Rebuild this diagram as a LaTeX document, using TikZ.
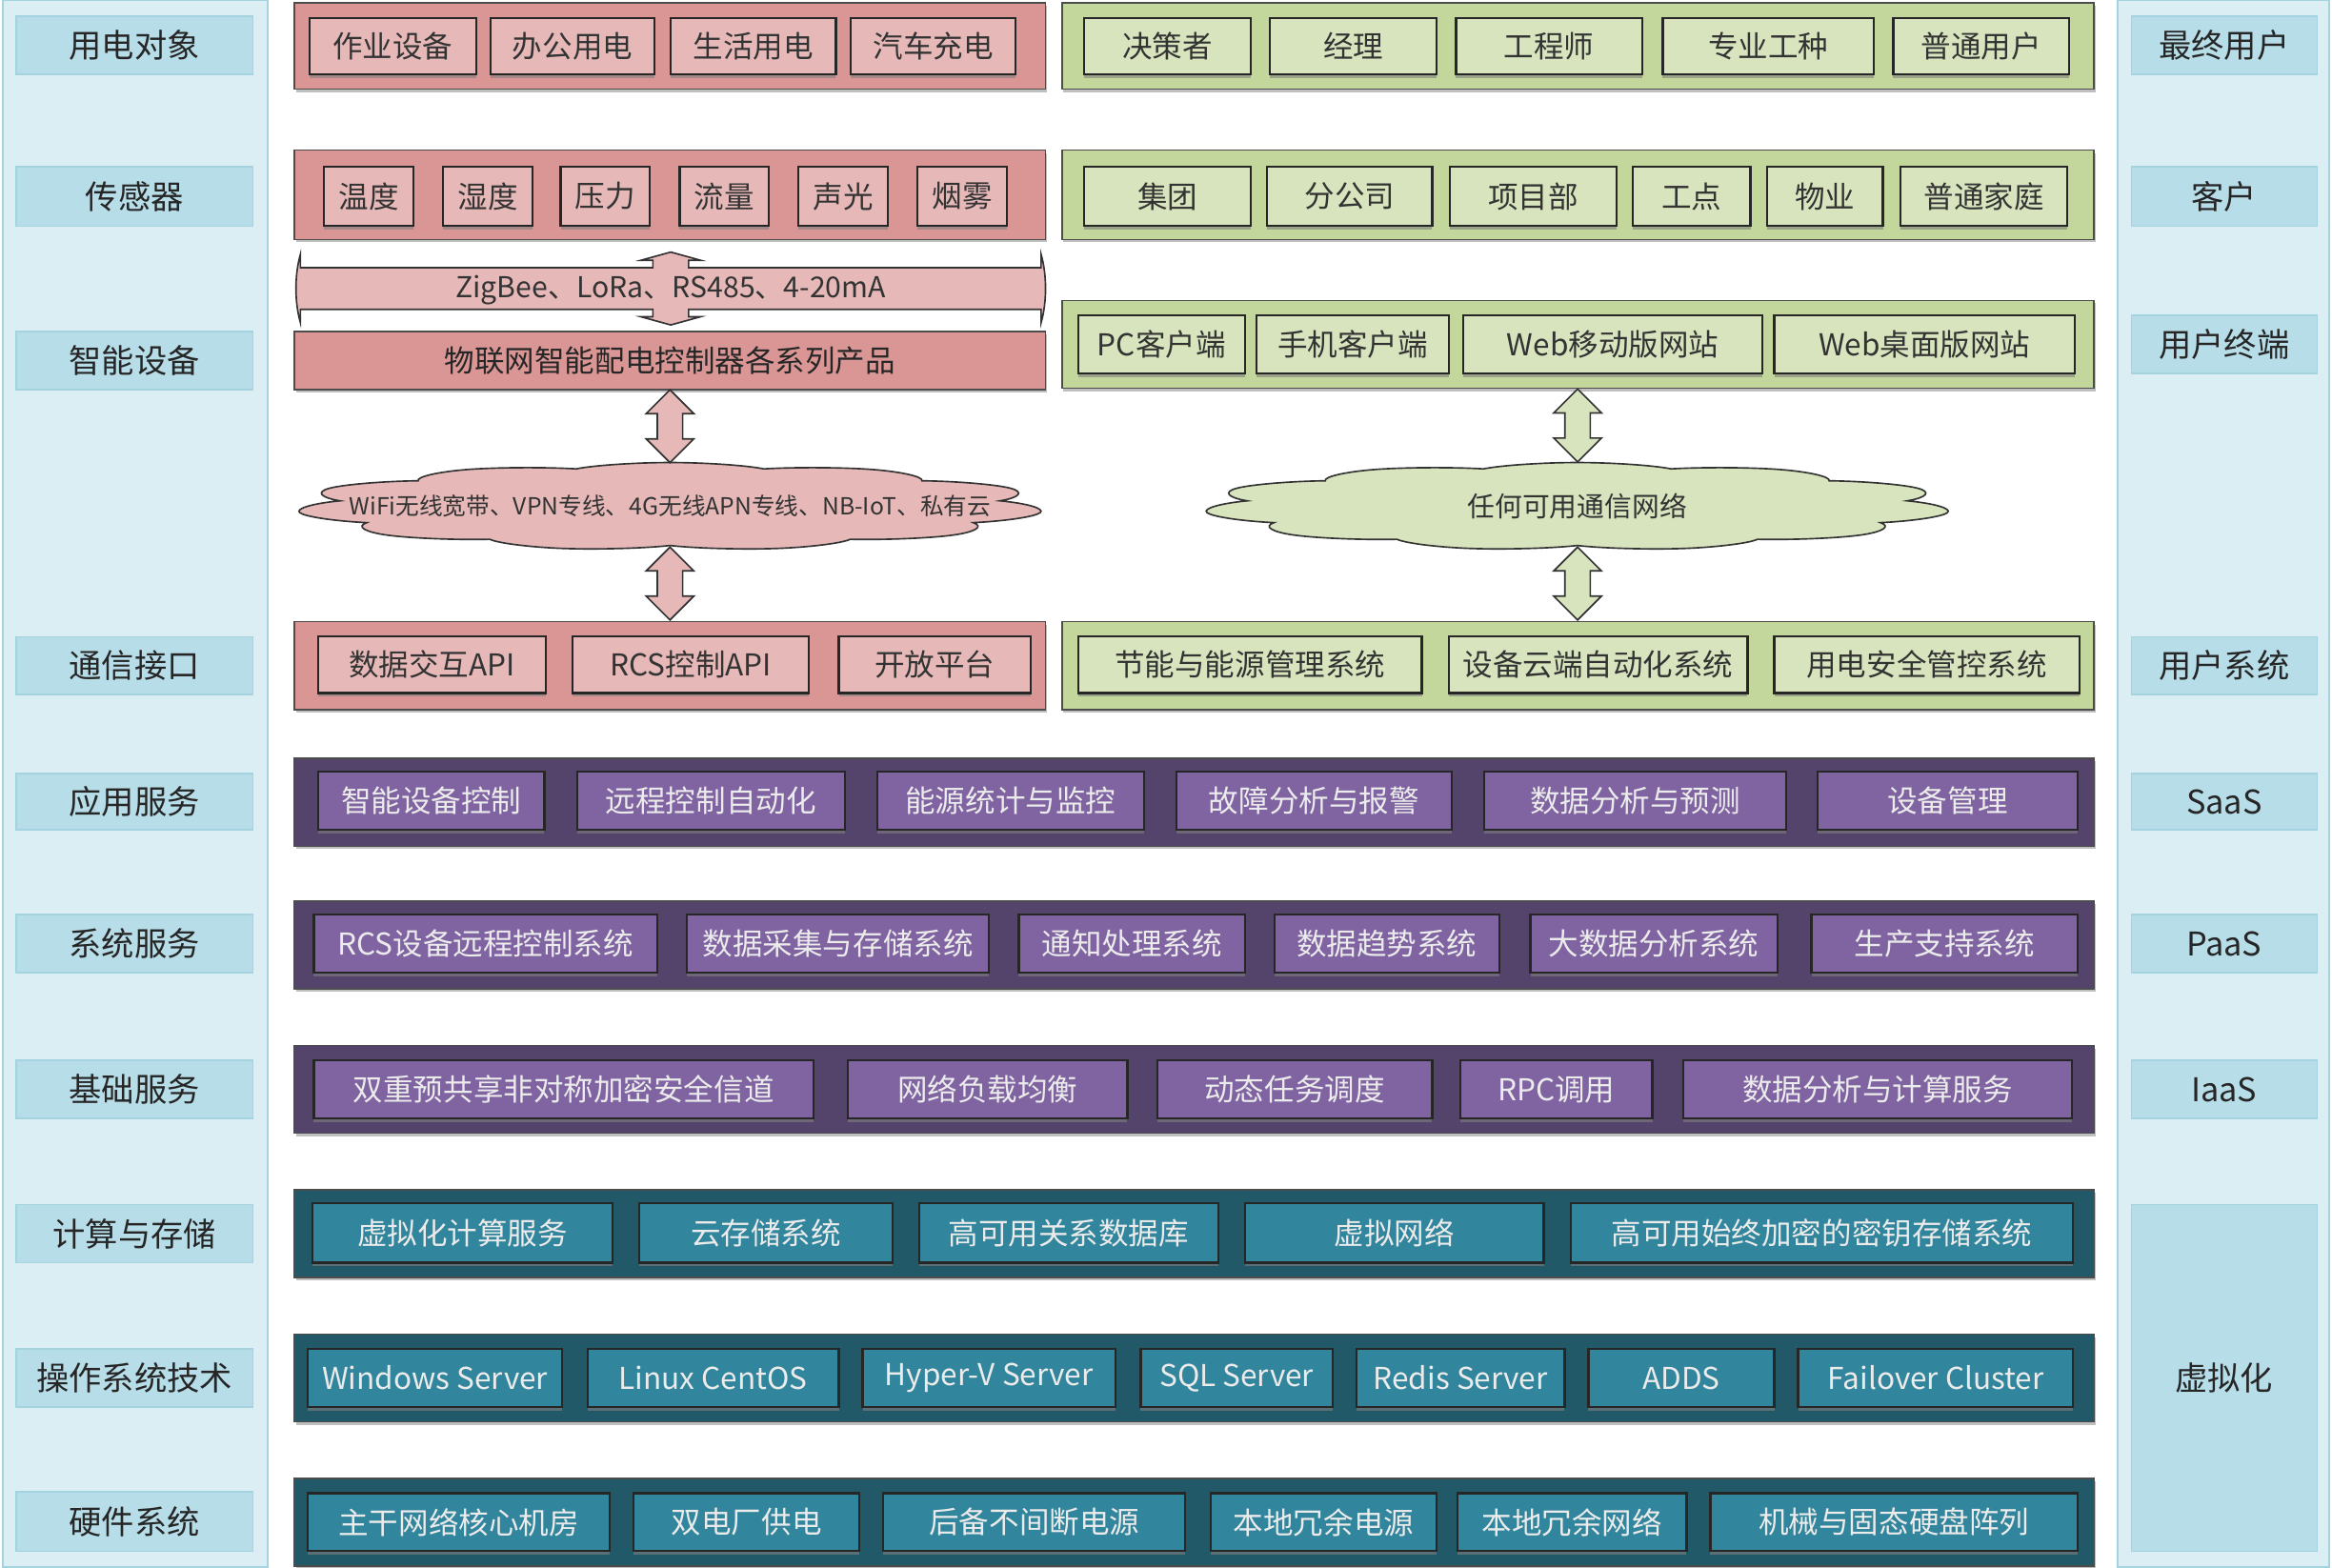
\documentclass[tikz,border=0pt]{standalone}
\usepackage{fontspec}
\setmainfont{Noto Sans CJK SC}
\usetikzlibrary{shapes.symbols,shapes.arrows,shadows,calc}
\definecolor{redframe}{HTML}{D99694}
\definecolor{redfill}{HTML}{E6B9B8}
\definecolor{grnframe}{HTML}{C3D69B}
\definecolor{grnfill}{HTML}{D7E4BD}
\definecolor{purframe}{HTML}{54436B}
\definecolor{purfill}{HTML}{8064A2}
\definecolor{tealframe}{HTML}{215968}
\definecolor{tealfill}{HTML}{31859C}
\definecolor{sidepanel}{HTML}{DBEEF4}
\definecolor{sidelabel}{HTML}{B7DDE8}
\definecolor{sideline}{HTML}{A5D2DF}
\tikzset{
  spot/.style n args={4}{at={({(#1+#3)/2},{(#2+#4)/2})}, minimum width={(#3-#1)*0.2mm}, minimum height={(#4-#2)*0.2mm}},
  layerbox/.style={draw=black!70, line width=.6pt, inner sep=0pt, drop shadow={shadow xshift=.2mm, shadow yshift=-.4mm, opacity=.5}},
  cellbox/.style={draw=black!85, line width=.8pt, inner sep=1pt, font=\fontsize{11.5}{12}\selectfont, drop shadow={shadow xshift=0mm, shadow yshift=-.5mm, opacity=.6}},
  redlayer/.style={layerbox, fill=redframe},
  redcell/.style={cellbox, fill=redfill, text=black!80},
  grnlayer/.style={layerbox, fill=grnframe},
  grncell/.style={cellbox, fill=grnfill, text=black!80},
  purlayer/.style={layerbox, fill=purframe},
  purcell/.style={cellbox, fill=purfill, text=white!92!black},
  teallayer/.style={layerbox, fill=tealframe},
  tealcell/.style={cellbox, fill=tealfill, text=white!92!black},
  sidebar/.style={fill=sidepanel, draw=sideline, line width=.8pt},
  side/.style={fill=sidelabel, draw=sideline, line width=.5pt, font=\fontsize{12.5}{13}\selectfont, text=black!85},
  net/.style={cloud, cloud puffs=11, cloud puff arc=120, aspect=1, inner sep=0pt, minimum size=20mm, draw=black!80, line width=.6pt, xscale=5.03, yscale=.59},
  dblarrow/.style={double arrow, rotate=90, inner xsep=0pt, inner ysep=1.6mm, minimum height=9.8mm, double arrow head extend=1.5mm, draw=black!80, line width=.6pt}
}
\begin{document}
\begin{tikzpicture}[x=0.2mm,y=-0.2mm]
\useasboundingbox (0,0) rectangle (1568,1054);
\fill[white] (0,0) rectangle (1568,1054);

\node[sidebar, spot={2}{0}{180}{1054}] (leftbar) {};
\node[sidebar, spot={1424}{0}{1566}{1054}] (rightbar) {};

\node[side, spot={11}{11}{170}{50}] (lObj) {用电对象};
\node[side, spot={11}{112}{170}{152}] (lSensor) {传感器};
\node[side, spot={11}{223}{170}{262}] (lDevice) {智能设备};
\node[side, spot={11}{428}{170}{467}] (lComm) {通信接口};
\node[side, spot={11}{520}{170}{558}] (lApp) {应用服务};
\node[side, spot={11}{615}{170}{654}] (lSys) {系统服务};
\node[side, spot={11}{713}{170}{752}] (lBase) {基础服务};
\node[side, spot={11}{810}{170}{849}] (lCompute) {计算与存储};
\node[side, spot={11}{907}{170}{946}] (lOS) {操作系统技术};
\node[side, spot={11}{1003}{170}{1043}] (lHW) {硬件系统};

\node[side, spot={1433}{11}{1558}{50}] (rUser) {最终用户};
\node[side, spot={1433}{112}{1558}{152}] (rClient) {客户};
\node[side, spot={1433}{212}{1558}{251}] (rTerminal) {用户终端};
\node[side, spot={1433}{428}{1558}{467}] (rSystem) {用户系统};
\node[side, spot={1433}{520}{1558}{558}] (rSaaS) {SaaS};
\node[side, spot={1433}{615}{1558}{654}] (rPaaS) {PaaS};
\node[side, spot={1433}{713}{1558}{752}] (rIaaS) {IaaS};
\node[side, spot={1433}{810}{1558}{1043}] (rVirt) {虚拟化};

\node[redlayer, spot={198}{2}{703}{60}] (objL) {};
\node[grnlayer, spot={714}{2}{1408}{60}] (objR) {};
\node[redlayer, spot={198}{101}{703}{161}] (senL) {};
\node[grnlayer, spot={714}{101}{1408}{161}] (senR) {};
\node[redlayer, spot={198}{223}{703}{262}, font=\fontsize{11.5}{12}\selectfont, text=black!85] (iot) {物联网智能配电控制器各系列产品};
\node[grnlayer, spot={714}{202}{1408}{261}] (termR) {};
\node[redlayer, spot={198}{418}{703}{477}] (apiL) {};
\node[grnlayer, spot={714}{418}{1408}{477}] (apiR) {};
\node[purlayer, spot={198}{510}{1408}{569}] (app) {};
\node[purlayer, spot={198}{606}{1408}{665}] (sys) {};
\node[purlayer, spot={198}{703}{1408}{762}] (base) {};
\node[teallayer, spot={198}{800}{1408}{859}] (comp) {};
\node[teallayer, spot={198}{897}{1408}{956}] (os) {};
\node[teallayer, spot={198}{994}{1408}{1053}] (hw) {};

\node[redcell, spot={208}{12}{320}{50}] (zy) {作业设备};
\node[redcell, spot={330}{12}{440}{50}] (bg) {办公用电};
\node[redcell, spot={451}{12}{562}{50}] (sh) {生活用电};
\node[redcell, spot={572}{12}{683}{50}] (qc) {汽车充电};

\node[grncell, spot={729}{12}{841}{50}] (jc) {决策者};
\node[grncell, spot={854}{12}{966}{50}] (jl) {经理};
\node[grncell, spot={979}{12}{1104}{50}] (gcs) {工程师};
\node[grncell, spot={1118}{12}{1260}{50}] (zygz) {专业工种};
\node[grncell, spot={1273}{12}{1391}{50}] (pt) {普通用户};

\node[redcell, spot={218}{112}{278}{152}] (wd) {温度};
\node[redcell, spot={298}{112}{358}{152}] (sd) {湿度};
\node[redcell, spot={377}{112}{437}{152}] (yl) {压力};
\node[redcell, spot={457}{112}{517}{152}] (ll) {流量};
\node[redcell, spot={537}{112}{597}{152}] (sg) {声光};
\node[redcell, spot={617}{112}{677}{152}] (yw) {烟雾};

\node[grncell, spot={729}{112}{841}{152}] (jt) {集团};
\node[grncell, spot={852}{112}{963}{152}] (fgs) {分公司};
\node[grncell, spot={975}{112}{1087}{152}] (xmb) {项目部};
\node[grncell, spot={1098}{112}{1177}{152}] (gd) {工点};
\node[grncell, spot={1188}{112}{1266}{152}] (wy) {物业};
\node[grncell, spot={1278}{112}{1390}{152}] (jt2) {普通家庭};

\node[grncell, spot={725}{212}{837}{251}] (pc) {PC客户端};
\node[grncell, spot={845}{212}{974}{251}] (sj) {手机客户端};
\node[grncell, spot={984}{212}{1185}{251}] (webm) {Web移动版网站};
\node[grncell, spot={1193}{212}{1395}{251}] (webd) {Web桌面版网站};

\node[redcell, spot={214}{428}{367}{466}] (sjjh) {数据交互API};
\node[redcell, spot={385}{428}{544}{466}] (rcs) {RCS控制API};
\node[redcell, spot={564}{428}{693}{466}] (kf) {开放平台};

\node[grncell, spot={725}{428}{956}{466}] (jn) {节能与能源管理系统};
\node[grncell, spot={974}{428}{1175}{466}] (yd) {设备云端自动化系统};
\node[grncell, spot={1193}{428}{1398}{466}] (aq) {用电安全管控系统};

\node[purcell, spot={214}{519}{366}{558}] (a1) {智能设备控制};
\node[purcell, spot={388}{519}{568}{558}] (a2) {远程控制自动化};
\node[purcell, spot={590}{519}{769}{558}] (a3) {能源统计与监控};
\node[purcell, spot={791}{519}{976}{558}] (a4) {故障分析与报警};
\node[purcell, spot={998}{519}{1201}{558}] (a5) {数据分析与预测};
\node[purcell, spot={1222}{519}{1397}{558}] (a6) {设备管理};

\node[purcell, spot={211}{615}{442}{654}] (s1) {RCS设备远程控制系统};
\node[purcell, spot={462}{615}{665}{654}] (s2) {数据采集与存储系统};
\node[purcell, spot={685}{615}{837}{654}] (s3) {通知处理系统};
\node[purcell, spot={857}{615}{1008}{654}] (s4) {数据趋势系统};
\node[purcell, spot={1029}{615}{1195}{654}] (s5) {大数据分析系统};
\node[purcell, spot={1218}{615}{1397}{654}] (s6) {生产支持系统};

\node[purcell, spot={211}{713}{547}{752}] (b1) {双重预共享非对称加密安全信道};
\node[purcell, spot={570}{713}{758}{752}] (b2) {网络负载均衡};
\node[purcell, spot={778}{713}{963}{752}] (b3) {动态任务调度};
\node[purcell, spot={982}{713}{1111}{752}] (b4) {RPC调用};
\node[purcell, spot={1132}{713}{1393}{752}] (b5) {数据分析与计算服务};

\node[tealcell, spot={210}{809}{412}{849}] (c1) {虚拟化计算服务};
\node[tealcell, spot={430}{809}{600}{849}] (c2) {云存储系统};
\node[tealcell, spot={618}{809}{819}{849}] (c3) {高可用关系数据库};
\node[tealcell, spot={837}{809}{1038}{849}] (c4) {虚拟网络};
\node[tealcell, spot={1056}{809}{1394}{849}] (c5) {高可用始终加密的密钥存储系统};

\node[tealcell, spot={207}{907}{378}{946}] (o1) {Windows Server};
\node[tealcell, spot={395}{907}{564}{946}] (o2) {Linux CentOS};
\node[tealcell, spot={580}{907}{750}{946}] (o3) {Hyper-V Server};
\node[tealcell, spot={767}{907}{896}{946}] (o4) {SQL Server};
\node[tealcell, spot={912}{907}{1052}{946}] (o5) {Redis Server};
\node[tealcell, spot={1068}{907}{1193}{946}] (o6) {ADDS};
\node[tealcell, spot={1209}{907}{1394}{946}] (o7) {Failover Cluster};

\node[tealcell, spot={207}{1004}{410}{1043}] (h1) {主干网络核心机房};
\node[tealcell, spot={426}{1004}{578}{1043}] (h2) {双电厂供电};
\node[tealcell, spot={594}{1004}{797}{1043}] (h3) {后备不间断电源};
\node[tealcell, spot={814}{1004}{966}{1043}] (h4) {本地冗余电源};
\node[tealcell, spot={980}{1004}{1134}{1043}] (h5) {本地冗余网络};
\node[tealcell, spot={1150}{1004}{1397}{1043}] (h6) {机械与固态硬盘阵列};

\draw[fill=redfill, draw=black!80, line width=.6pt] (451,169.5) -- (471,175) -- (463,175) -- (463,180) -- (700,180) -- (700,171)
  .. controls (704,185) and (704,203) .. (700,217) -- (700,208) -- (463,208) -- (463,213) -- (471,213) -- (451,218.5)
  -- (431,213) -- (439,213) -- (439,208) -- (202,208) -- (202,217) .. controls (198,203) and (198,185) .. (202,171)
  -- (202,180) -- (439,180) -- (439,175) -- (431,175) -- cycle;
\node[font=\fontsize{11}{12}\selectfont, text=black!80] (bus) at (451,195) {ZigBee、LoRa、RS485、4-20mA};

\node[net, fill=redfill] (wanL) at (450.5,340.5) {};
\node[font=\fontsize{9}{10}\selectfont, text=black!80] (wanLtext) at (wanL) {WiFi无线宽带、VPN专线、4G无线APN专线、NB-IoT、私有云};
\node[net, fill=grnfill] (wanR) at (1060.5,340.5) {};
\node[font=\fontsize{10.5}{11}\selectfont, text=black!80] (wanRtext) at (wanR) {任何可用通信网络};

\node[dblarrow, fill=redfill] (upL) at ($(iot.south)!.5!(wanL.north)$) {};
\node[dblarrow, fill=redfill] (downL) at ($(wanL.south)!.5!(apiL.north)$) {};
\node[dblarrow, fill=grnfill] (upR) at ($(termR.south)!.5!(wanR.north)$) {};
\node[dblarrow, fill=grnfill] (downR) at ($(wanR.south)!.5!(apiR.north)$) {};
\end{tikzpicture}
\end{document}
